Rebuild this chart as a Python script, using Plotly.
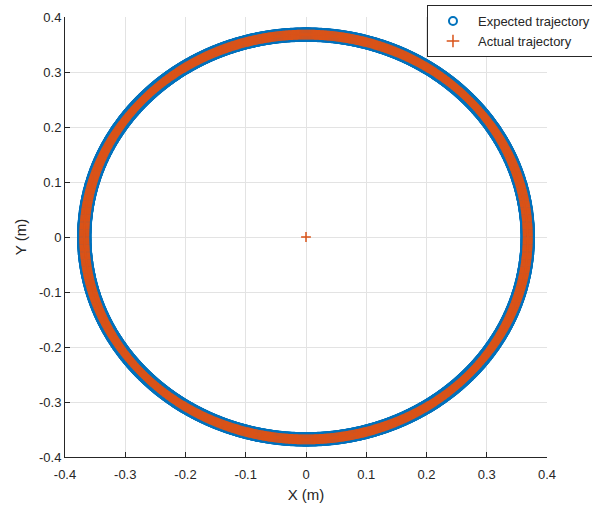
import numpy as np
import plotly.graph_objects as go

# Circular reference path (metres) and sampling of the trajectory
radius_m = 0.368
n_samples = 1440
start_point = (0.0, 0.0)

x_ticks = [-0.4, -0.3, -0.2, -0.1, 0.0, 0.1, 0.2, 0.3, 0.4]
x_tick_text = ["-0.4", "-0.3", "-0.2", "-0.1", "0", "0.1", "0.2", "0.3", "0.4"]
y_ticks = [-0.4, -0.3, -0.2, -0.1, 0.0, 0.1, 0.2, 0.3, 0.4]
y_tick_text = ["-0.4", "-0.3", "-0.2", "-0.1", "0", "0.1", "0.2", "0.3", "0.4"]

theta = np.linspace(0.0, 2.0 * np.pi, n_samples, endpoint=False)
expected_x = radius_m * np.cos(theta)
expected_y = radius_m * np.sin(theta)
# the actual run starts at the origin, then tracks the circle
actual_x = np.concatenate([[start_point[0]], radius_m * np.cos(theta)])
actual_y = np.concatenate([[start_point[1]], radius_m * np.sin(theta)])

BLUE = "#0072BD"
ORANGE = "#D95319"
INK = "#262626"
FONT = "Liberation Sans, Arial, sans-serif"

expected_marker = dict(symbol="circle-open", size=12.5, color=BLUE, line=dict(width=2, color=BLUE))
actual_marker = dict(symbol="cross-thin-open", size=7, color=ORANGE, line=dict(width=1.5, color=ORANGE))

fig = go.Figure()
fig.add_trace(go.Scatter(
    x=expected_x, y=expected_y, mode="markers", name="Expected trajectory",
    marker=expected_marker, showlegend=False,
))
fig.add_trace(go.Scatter(
    x=actual_x, y=actual_y, mode="markers", name="Actual trajectory",
    marker=actual_marker, showlegend=False,
))
# legend entries with compact symbols
fig.add_trace(go.Scatter(
    x=[None], y=[None], mode="markers", name="Expected trajectory", legendgroup="e",
    marker=dict(symbol="circle-open", size=8, color=BLUE, line=dict(width=2, color=BLUE)),
))
fig.add_trace(go.Scatter(
    x=[None], y=[None], mode="markers", name="Actual trajectory", legendgroup="a",
    marker=dict(symbol="cross-thin-open", size=9, color=ORANGE, line=dict(width=1.5, color=ORANGE)),
))

axis_common = dict(
    showline=True, linecolor=INK, linewidth=1, mirror=False,
    ticks="inside", ticklen=5, tickcolor=INK, tickwidth=1,
    showgrid=True, gridcolor="#e3e3e3", gridwidth=1,
    zeroline=False,
    tickfont=dict(family=FONT, size=13, color=INK),
)

fig.update_xaxes(range=[-0.4, 0.4], tickvals=x_ticks, ticktext=x_tick_text,
                 ticklabelstandoff=5,
                 title=dict(text="X (m)", font=dict(family=FONT, size=15, color=INK), standoff=8),
                 **axis_common)
fig.update_yaxes(range=[-0.4, 0.4], tickvals=y_ticks, ticktext=y_tick_text,
                 title=dict(text="Y (m)", font=dict(family=FONT, size=15, color=INK), standoff=8),
                 **axis_common)

fig.update_layout(
    width=592, height=510,
    margin=dict(l=65, r=45, t=17, b=53, autoexpand=False),
    paper_bgcolor="white", plot_bgcolor="white",
    font=dict(family=FONT, color=INK),
    showlegend=True,
    legend=dict(
        x=0.751, xanchor="left", y=1.027, yanchor="top",
        bgcolor="white", bordercolor=INK, borderwidth=1,
        font=dict(family=FONT, size=13, color=INK),
        itemwidth=40, tracegroupgap=0,
    ),
)

fig.write_html("out.html")
